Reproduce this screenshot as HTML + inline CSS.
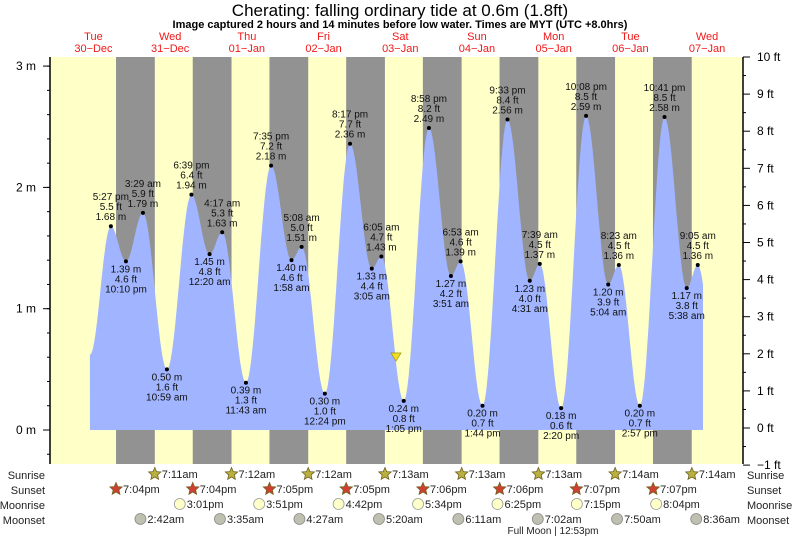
<!DOCTYPE html>
<html><head><meta charset="utf-8"><style>
html,body{margin:0;padding:0;background:#fff;width:793px;height:538px;overflow:hidden}
svg{display:block;font-family:"Liberation Sans",sans-serif}
</style></head><body>
<svg id="s" width="793" height="538" xmlns="http://www.w3.org/2000/svg"></svg>
<script>
const S=document.getElementById('s');let h='';
const X=t=>55.1+3.196*t, Y=m=>430-121.3*m;
const PL=50,PR=743,PT=57,PB=464;
h+=`<rect x="${PL}" y="${PT}" width="${PR-PL}" height="${PB-PT}" fill="#ffffc8"/>`;
for(let k=0;k<8;k++){const x1=X(24*k+19.07),x2=X(24*(k+1)+7.2);h+=`<rect x="${x1}" y="${PT}" width="${x2-x1}" height="${PB-PT}" fill="#929292"/>`;}
function tm(d,s){let[a,b]=s.split(':');let hh=+a,mm=parseInt(b);const pm=s.includes('pm');if(pm&&hh<12)hh+=12;if(!pm&&hh==12)hh=0;return 24*d+hh+mm/60;}
const E=[[0,'10:54 am',0.62,0],[0,'5:27 pm',1.68,1],[0,'10:10 pm',1.39,0],[1,'3:29 am',1.79,1],[1,'10:59 am',0.50,0],[1,'6:39 pm',1.94,1],[2,'12:20 am',1.45,0],[2,'4:17 am',1.63,1],[2,'11:43 am',0.39,0],[2,'7:35 pm',2.18,1],[3,'1:58 am',1.40,0],[3,'5:08 am',1.51,1],[3,'12:24 pm',0.30,0],[3,'8:17 pm',2.36,1],[4,'3:05 am',1.33,0],[4,'6:05 am',1.43,1],[4,'1:05 pm',0.24,0],[4,'8:58 pm',2.49,1],[5,'3:51 am',1.27,0],[5,'6:53 am',1.39,1],[5,'1:44 pm',0.20,0],[5,'9:33 pm',2.56,1],[6,'4:31 am',1.23,0],[6,'7:39 am',1.37,1],[6,'2:20 pm',0.18,0],[6,'10:08 pm',2.59,1],[7,'5:04 am',1.20,0],[7,'8:23 am',1.36,1],[7,'2:57 pm',0.20,0],[7,'10:41 pm',2.58,1],[8,'5:38 am',1.17,0],[8,'9:05 am',1.36,1],[8,'3:30 pm',0.3,0]];
E.forEach(e=>e.t=tm(e[0],e[1]));
const t0=E[0].t,t1=(703-55.1)/3.196;
let pts=[];
for(let i=0;i<E.length-1;i++){const a=E[i],b=E[i+1];for(let j=0;j<20;j++){const t=a.t+(b.t-a.t)*j/20;if(t>t1)break;const f=(1-Math.cos(Math.PI*j/20))/2;pts.push([X(t),Y(a[2]+(b[2]-a[2])*f)]);}}
const last=pts[pts.length-1];
let d=`M${X(t0)},430 `+pts.map(p=>`L${p[0].toFixed(1)},${p[1].toFixed(1)}`).join(' ')+` L703,${last[1].toFixed(1)} L703,430 Z`;
h+=`<path d="${d}" fill="#a0b4ff"/>`;
const ft=m=>(m*3.2808).toFixed(1);
for(let i=1;i<E.length-1;i++){const e=E[i],x=X(e.t),y=Y(e[2]);h+=`<circle cx="${x}" cy="${y}" r="2" fill="#000"/>`;
 const L=e[3]?[e[1],ft(e[2])+' ft',e[2].toFixed(2)+' m']:[e[2].toFixed(2)+' m',ft(e[2])+' ft',e[1]];
 const y0=e[3]?y-26:y+11;
 L.forEach((s,k)=>h+=`<text x="${x}" y="${y0+k*10}" font-size="10" text-anchor="middle" fill="#111">${s}</text>`);}
h+=`<polygon points="391,353 401,353 396,361" fill="#f0e020" stroke="#a09000" stroke-width="0.7"/>`;
h+=`<line x1="${PL}" y1="${PT}" x2="${PL}" y2="${PB}" stroke="#000" stroke-width="1.5"/><line x1="${PR}" y1="${PT}" x2="${PR}" y2="${PB}" stroke="#000" stroke-width="1.5"/>`;
for(let m=-0.2;m<=3.21;m+=0.2){const y=Y(m);if(y<PT||y>PB)continue;h+=`<line x1="${PL-3}" y1="${y}" x2="${PL}" y2="${y}" stroke="#000"/>`;}
[0,1,2,3].forEach(m=>{const y=Y(m);h+=`<line x1="${PL-7}" y1="${y}" x2="${PL}" y2="${y}" stroke="#000"/><text x="36" y="${y+4}" font-size="12" text-anchor="end">${m} m</text>`;});
for(let f=-1;f<=10;f+=0.5){const y=428-37.1*f;const maj=f%1==0;h+=`<line x1="${PR}" y1="${y}" x2="${PR+(maj?7:3)}" y2="${y}" stroke="#000"/>`;if(maj)h+=`<text x="757" y="${y+4}" font-size="12">${f<0?'\u22121':f} ft</text>`;}
h+=`<text x="400" y="16" font-size="17" text-anchor="middle">Cherating: falling  ordinary tide at 0.6m (1.8ft)</text>`;
h+=`<text x="400" y="28" font-size="11" font-weight="bold" text-anchor="middle">Image captured 2 hours and 14 minutes before low water. Times are MYT (UTC +8.0hrs)</text>`;
const days=[['Tue','30\u2212Dec'],['Wed','31\u2212Dec'],['Thu','01\u2212Jan'],['Fri','02\u2212Jan'],['Sat','03\u2212Jan'],['Sun','04\u2212Jan'],['Mon','05\u2212Jan'],['Tue','06\u2212Jan'],['Wed','07\u2212Jan']];
days.forEach((dd,k)=>{const x=X(24*k+12);h+=`<text x="${x}" y="40" font-size="11" fill="#f01818" text-anchor="middle">${dd[0]}</text><text x="${x}" y="52" font-size="11" fill="#f01818" text-anchor="middle">${dd[1]}</text>`;});
const rows=[['Sunrise',475],['Sunset',490],['Moonrise',505],['Moonset',520]];
rows.forEach(r=>{h+=`<text x="45" y="${r[1]+4}" font-size="11" text-anchor="end" fill="#222">${r[0]}</text><text x="747" y="${r[1]+4}" font-size="11" fill="#222">${r[0]}</text>`;});
function star(x,y,fill){let p=[];for(let i=0;i<10;i++){const a=-Math.PI/2+i*Math.PI/5,r=i%2?3:6.5;p.push((x+r*Math.cos(a)).toFixed(1)+','+(y+r*Math.sin(a)).toFixed(1));}return `<polygon points="${p.join(' ')}" fill="${fill}" stroke="#706020" stroke-width="0.8"/>`;}
function item(t,y,icon,label){const x=X(t);h+=icon(x,y)+`<text x="${x+7}" y="${y+4}" font-size="11" fill="#222">${label}</text>`;}
['7:11am','7:12am','7:12am','7:13am','7:13am','7:13am','7:14am','7:14am'].forEach((s,k)=>item(tm(k+1,s.replace('am',' am')),474,(x,y)=>star(x,y,'#b8b040'),s));
['7:04pm','7:04pm','7:05pm','7:05pm','7:06pm','7:06pm','7:07pm','7:07pm'].forEach((s,k)=>item(tm(k,s.replace('pm',' pm')),489,(x,y)=>star(x,y,'#d04030'),s));
['3:01pm','3:51pm','4:42pm','5:34pm','6:25pm','7:15pm','8:04pm'].forEach((s,k)=>item(tm(k+1,s.replace('pm',' pm')),504,(x,y)=>`<circle cx="${x}" cy="${y}" r="5.5" fill="#ffffc8" stroke="#999" stroke-width="0.8"/>`,s));
['2:42am','3:35am','4:27am','5:20am','6:11am','7:02am','7:50am','8:36am'].forEach((s,k)=>item(tm(k+1,s.replace('am',' am')),519,(x,y)=>`<circle cx="${x}" cy="${y}" r="5.5" fill="#c0c0b0" stroke="#888" stroke-width="0.8"/>`,s));
h+=`<text x="553" y="534" font-size="10" text-anchor="middle" fill="#222">Full Moon | 12:53pm</text>`;
S.innerHTML=h;
</script>
</body></html>
